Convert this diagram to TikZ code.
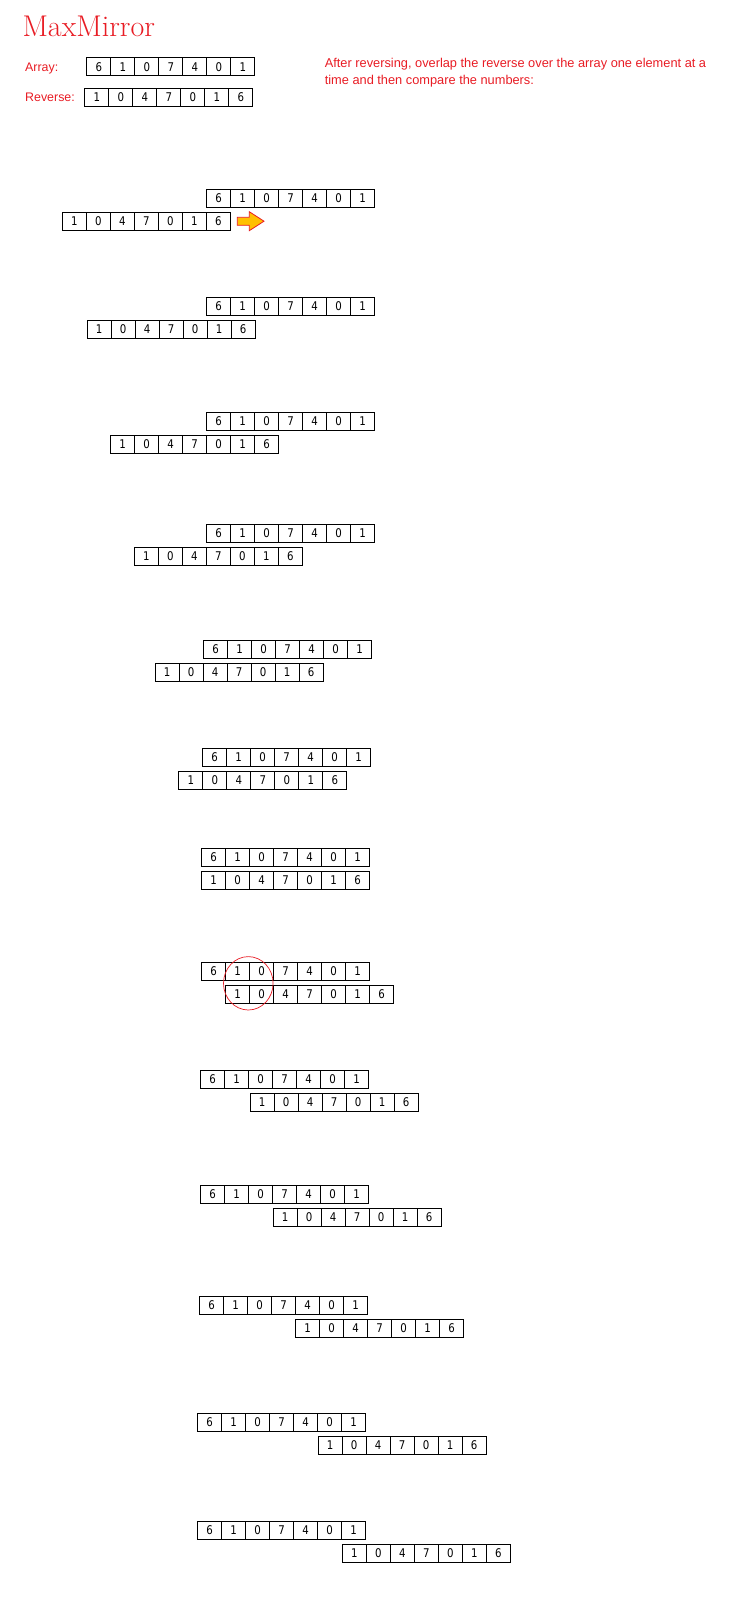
\documentclass[tikz,border=0pt]{standalone}
\usepackage{fontspec}
\setsansfont{Liberation Sans}
\newfontfamily\digitfont{DejaVu Sans}
\definecolor{mmred}{RGB}{232,28,36}
\definecolor{arrowfill}{RGB}{255,192,0}
\tikzset{
  cell/.style={draw=black, line width=0.9pt, minimum height=18pt, inner sep=0pt, outer sep=0pt,
    font=\digitfont\fontsize{12}{13}\selectfont},
  redtext/.style={text=mmred, inner sep=0pt, anchor=base west},
}
\newcommand\cellrow[5]{%
  \foreach \d [count=\i] in {#5} {
    \node[cell, minimum width=#4pt] (#1-\i) at ({#2+(\i-0.5)*#4},{#3+9}) {\scalebox{0.85}[1]{\d}};
  }%
}
\begin{document}
\begin{tikzpicture}[x=1pt,y=-1pt]
\useasboundingbox (0,0) rectangle (736,1620);
% title
\node[redtext] (title) at (22.3,36) {\fontsize{30}{34}\selectfont MaxMirror};
\node[redtext] (arrlab) at (25,71.3) {\sffamily\fontsize{12.4}{14}\selectfont Array:};
\node[redtext] (revlab) at (25,101.5) {\sffamily\fontsize{12.4}{14}\selectfont Reverse:};
\node[redtext, anchor=north west] (desc) at (324.6,55) {\sffamily\fontsize{12.8}{17.5}\selectfont
  \begin{tabular}{@{}l@{}}After reversing, overlap the reverse over the array one element at a\\ time and then compare the numbers:\end{tabular}};
% header arrays
\cellrow{ha}{86.8}{57.9}{24}{6,1,0,7,4,0,1}
\cellrow{hr}{84.8}{88.2}{24}{1,0,4,7,0,1,6}
% steps
\foreach \s/\tx/\ty/\bx in {1/206.7/189/62.3, 2/206.7/297/87, 3/206.7/412/110.6, 4/206.7/524/134.4,
  5/203.6/640/155, 6/202.6/748/178.8, 7/201.6/848/201.6, 8/201.5/962/225.5, 9/200.5/1070/250,
  10/200.5/1185/273, 11/199.5/1296/295.6, 12/197.5/1413/318, 13/197.5/1521/342.3} {
  \cellrow{t\s}{\tx}{\ty}{24}{6,1,0,7,4,0,1}
  \cellrow{b\s}{\bx}{\ty+23}{24}{1,0,4,7,0,1,6}
}
% arrow
\draw[mmred, fill=arrowfill, line width=0.8pt, line join=miter]
  (237.3,217.3) -- (249.3,217.3) -- (249.3,211.7) -- (264,221.2) -- (249.3,230.7) -- (249.3,225.3) -- (237.3,225.3) -- cycle;
% circle
\draw[mmred, line width=0.7pt] (248.3,983.3) ellipse [x radius=24.8, y radius=26.7];
\end{tikzpicture}
\end{document}
